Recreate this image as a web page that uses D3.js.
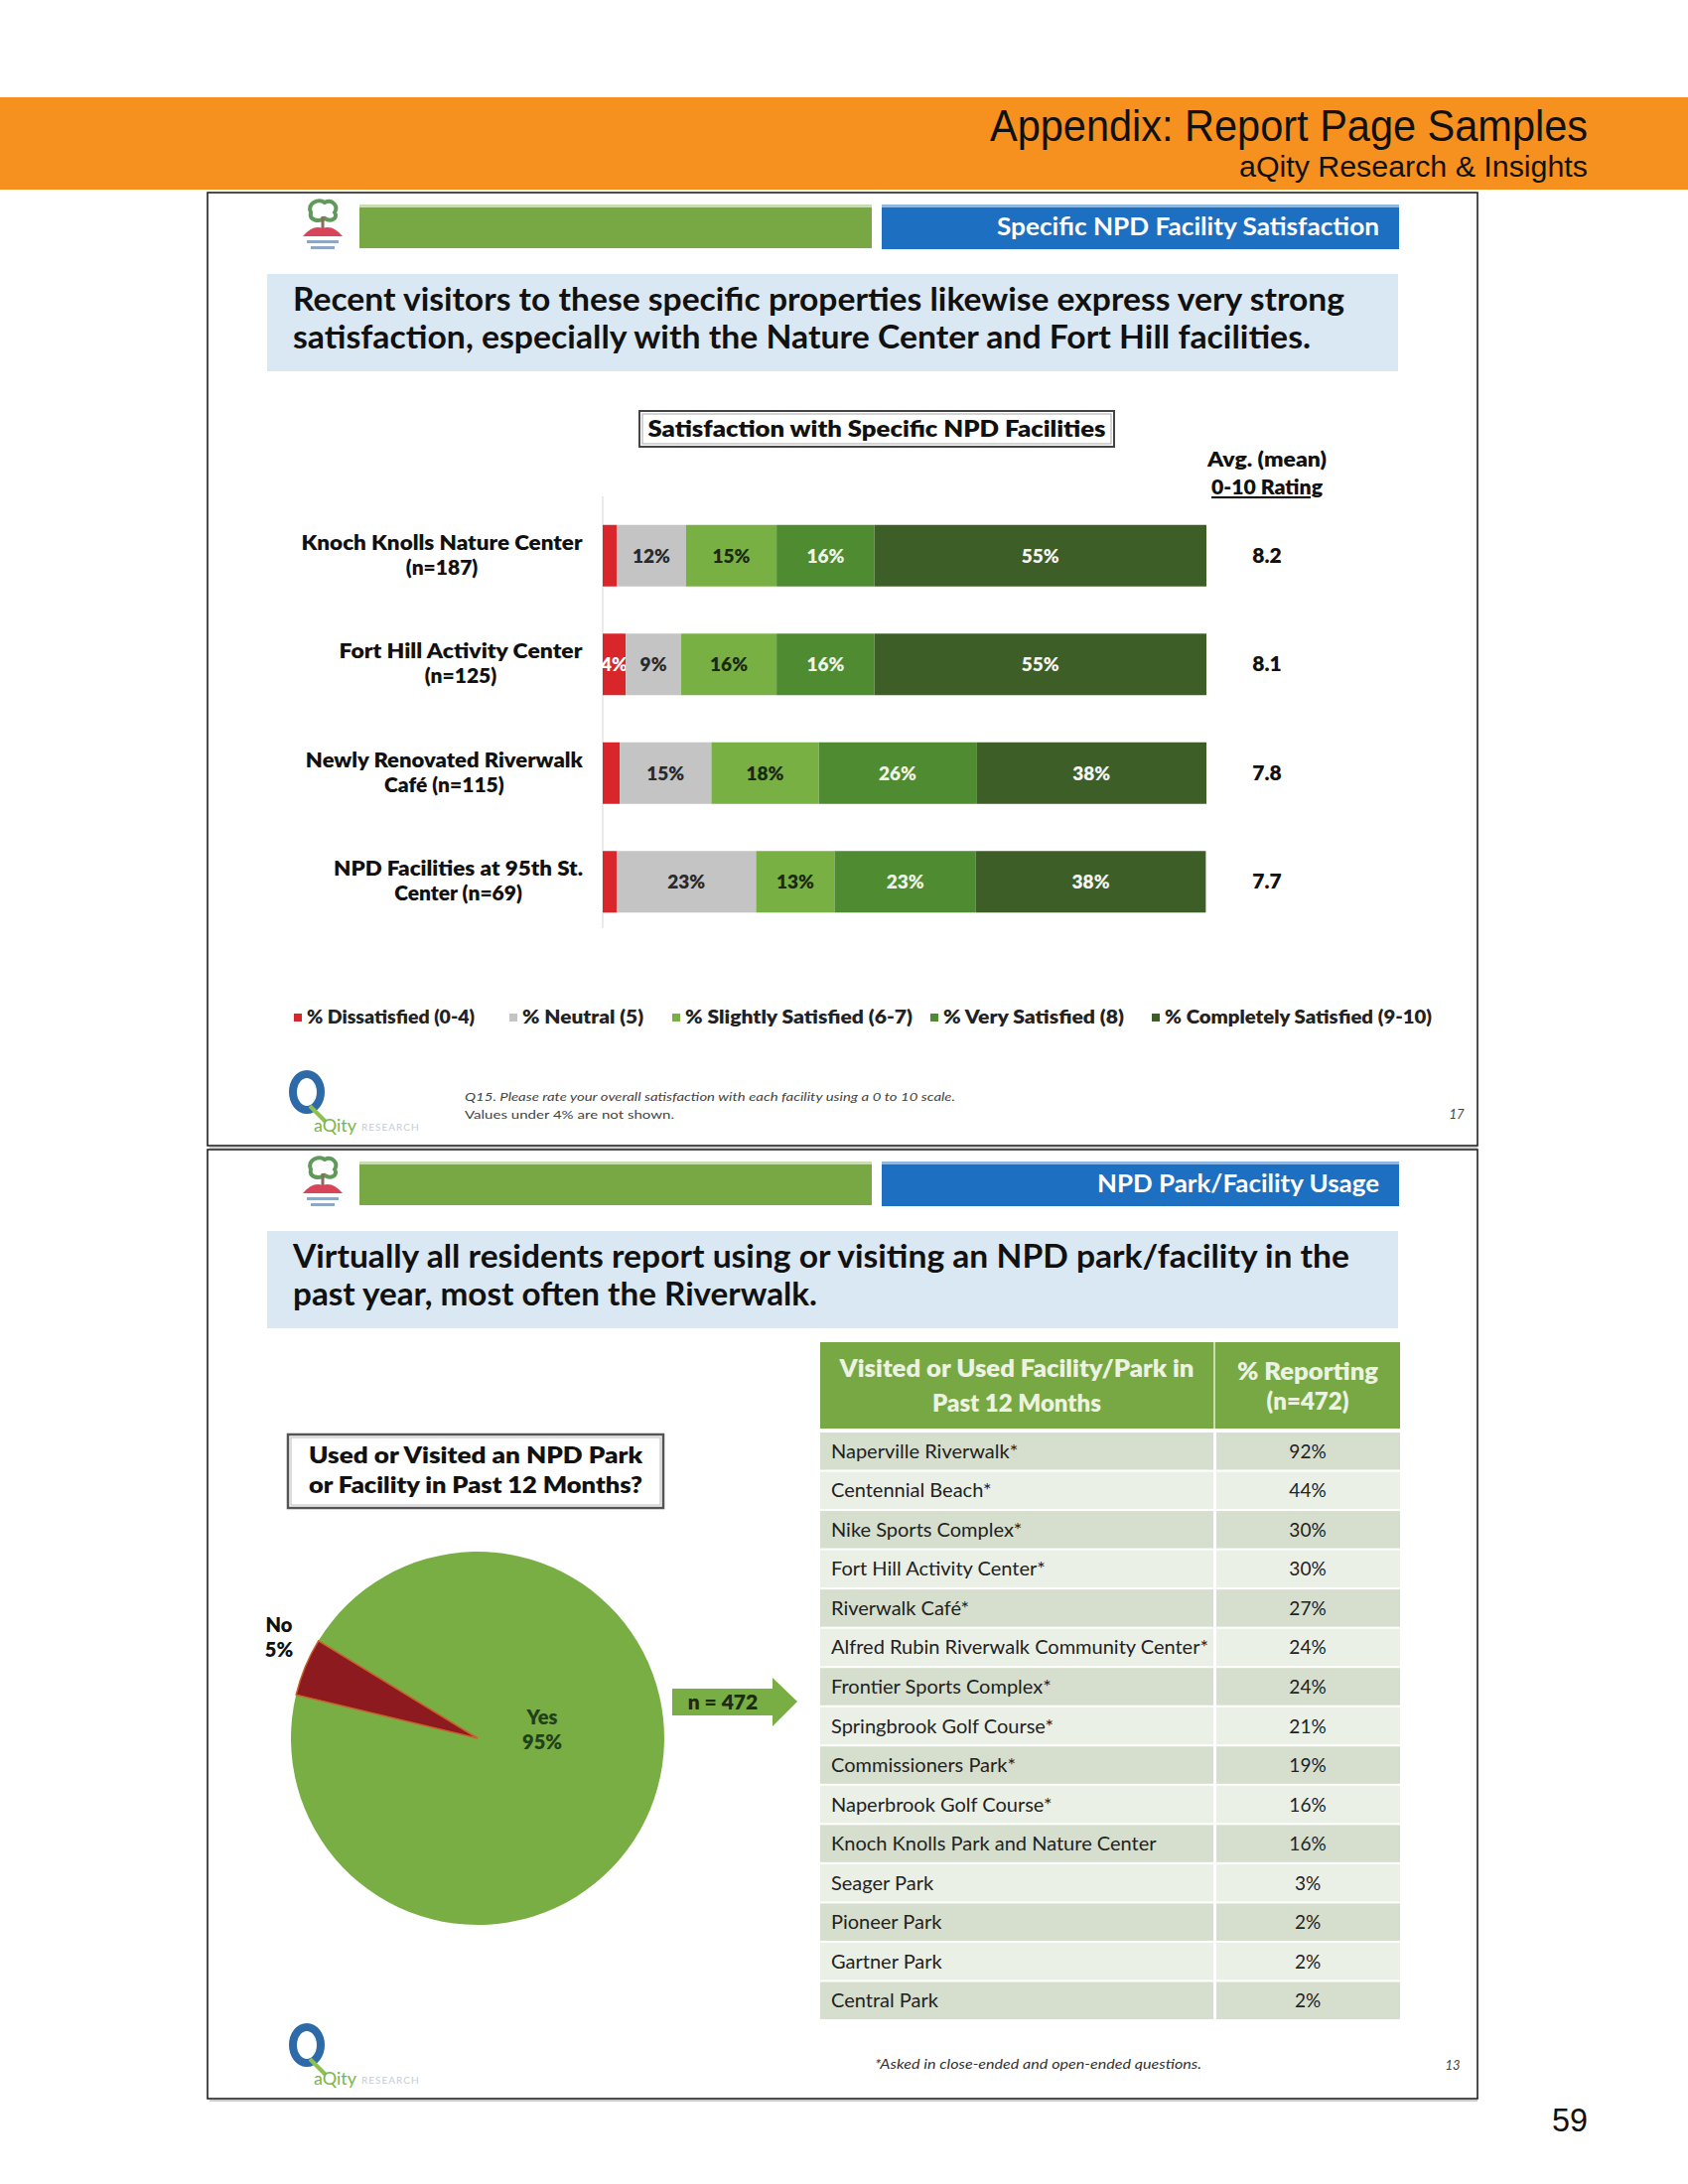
<!DOCTYPE html>
<html>
<head>
<meta charset="utf-8">
<script src="https://cdn.jsdelivr.net/npm/d3@7"></script>
<style>
  body { margin: 0; background: #fff; }
  svg { display: block; }
</style>
</head>
<body>
<div class="page"></div>
<script>
// ---------- data ----------
const facilityLines = [
  ["Knoch Knolls Nature Center", "(n=187)"],
  ["Fort Hill Activity Center", "(n=125)"],
  ["Newly Renovated Riverwalk", "Café (n=115)"],
  ["NPD Facilities at 95th St.", "Center (n=69)"],
];
const satLevels = [
  "% Dissatisfied (0-4)",
  "% Neutral (5)",
  "% Slightly Satisfied (6-7)",
  "% Very Satisfied (8)",
  "% Completely Satisfied (9-10)",
];
const dissatisfied = [2.3, 3.8, 2.8, 2.3];
const neutral = [11.5, 9.2, 15.2, 23.1];
const slightlySatisfied = [15.0, 15.8, 17.8, 13.0];
const verySatisfied = [16.2, 16.2, 26.1, 23.4];
const completelySatisfied = [55.0, 55.0, 38.1, 38.1];
const avgRating = ["8.2", "8.1", "7.8", "7.7"];

const pieLabels = ["Yes", "No"];
const pieValues = [95, 5];

const parkNames = [
  "Naperville Riverwalk*",
  "Centennial Beach*",
  "Nike Sports Complex*",
  "Fort Hill Activity Center*",
  "Riverwalk Café*",
  "Alfred Rubin Riverwalk Community Center*",
  "Frontier Sports Complex*",
  "Springbrook Golf Course*",
  "Commissioners Park*",
  "Naperbrook Golf Course*",
  "Knoch Knolls Park and Nature Center",
  "Seager Park",
  "Pioneer Park",
  "Gartner Park",
  "Central Park",
];
const parkPercent = [92, 44, 30, 30, 27, 24, 24, 21, 19, 16, 16, 3, 2, 2, 2];

// ---------- page ----------
const W = 1700, H = 2200;
const gill = "Lato, 'Open Sans', sans-serif";
const arial = "'Liberation Sans', Arial, sans-serif";

const svg = d3.select(".page").append("svg")
  .attr("width", W).attr("height", H);

// fit a text element to a width measured on the reference
function squeeze(sel, w) {
  sel.attr("textLength", w).attr("lengthAdjust", "spacingAndGlyphs");
  return sel;
}

// orange banner
svg.append("rect").attr("x", 0).attr("y", 98).attr("width", W).attr("height", 93)
  .attr("fill", "#f6901e");
squeeze(svg.append("text").attr("x", 1599).attr("y", 142).attr("text-anchor", "end")
  .attr("font-family", arial).attr("font-size", 44).attr("fill", "#111")
  .text("Appendix: Report Page Samples"), 602);
squeeze(svg.append("text").attr("x", 1599).attr("y", 178).attr("text-anchor", "end")
  .attr("font-family", arial).attr("font-size", 29).attr("fill", "#111")
  .text("aQity Research & Insights"), 351);
squeeze(svg.append("text").attr("x", 1599).attr("y", 2147).attr("text-anchor", "end")
  .attr("font-family", arial).attr("font-size", 33).attr("fill", "#111")
  .text("59"), 36);

// slide frame: border, header bars, logos, headline box
function slideFrame(top, height, title, titleW, headline, headlineW) {
  const g = svg.append("g");
  g.append("rect").attr("x", 209).attr("y", top).attr("width", 1279).attr("height", height)
    .attr("fill", "#fff").attr("stroke", "#222").attr("stroke-width", 1.6);
  g.append("line").attr("x1", 211).attr("x2", 1488).attr("y1", top + height + 2).attr("y2", top + height + 2)
    .attr("stroke", "#ccc").attr("stroke-width", 2);

  // NPD tree logo
  const lg = g.append("g").attr("transform", `translate(325, ${top + 22})`);
  lg.append("path").attr("d", "M-12,-2 C-16,-12 -4,-16 2,-12 C10,-16 16,-8 12,-2 C16,4 8,8 2,4 C-4,8 -14,6 -12,-2Z")
    .attr("fill", "none").attr("stroke", "#5f9a5a").attr("stroke-width", 4);
  lg.append("rect").attr("x", -1.5).attr("y", 2).attr("width", 3).attr("height", 14).attr("fill", "#8a6a5a");
  lg.append("path").attr("d", "M-20,22 Q-10,10 0,14 Q10,10 20,22 Z").attr("fill", "#d8455a");
  lg.append("rect").attr("x", -16).attr("y", 26).attr("width", 32).attr("height", 3).attr("fill", "#8fa7c4");
  lg.append("rect").attr("x", -12).attr("y", 32).attr("width", 24).attr("height", 3).attr("fill", "#8fa7c4");

  g.append("rect").attr("x", 362).attr("y", top + 12).attr("width", 516).attr("height", 44)
    .attr("fill", "#77a843");
  g.append("rect").attr("x", 362).attr("y", top + 12).attr("width", 516).attr("height", 3)
    .attr("fill", "#c9deb0");
  g.append("rect").attr("x", 888).attr("y", top + 12).attr("width", 521).attr("height", 45)
    .attr("fill", "#1d6fc1");
  g.append("rect").attr("x", 888).attr("y", top + 12).attr("width", 521).attr("height", 3)
    .attr("fill", "#8db8e4");
  squeeze(g.append("text").attr("x", 1389).attr("y", top + 43).attr("text-anchor", "end")
    .attr("font-family", gill).attr("font-weight", 700).attr("font-size", 25).attr("fill", "#fff")
    .text(title), titleW);

  g.append("rect").attr("x", 269).attr("y", top + 82).attr("width", 1139).attr("height", 98)
    .attr("fill", "#dae8f3");
  headline.forEach((line, i) => {
    squeeze(g.append("text").attr("x", 295).attr("y", top + 119 + i * 38)
      .attr("font-family", gill).attr("font-weight", 700).attr("font-size", 32).attr("fill", "#111")
      .text(line), headlineW[i]);
  });

  // aQity logo
  const q = g.append("g").attr("transform", `translate(0, ${top + height - 72})`);
  q.append("ellipse").attr("cx", 309).attr("cy", 18).attr("rx", 14).attr("ry", 18)
    .attr("fill", "none").attr("stroke", "#2f6aa8").attr("stroke-width", 8);
  q.append("path").attr("d", "M312,32 L328,48").attr("stroke", "#8cc152").attr("stroke-width", 4);
  q.append("text").attr("x", 316).attr("y", 58).attr("font-family", gill).attr("font-size", 18)
    .attr("fill", "#7ab648").text("aQity");
  q.append("text").attr("x", 364).attr("y", 57).attr("font-family", gill).attr("font-size", 10)
    .attr("fill", "#c8ccd4").attr("letter-spacing", 1).text("RESEARCH");
  return g;
}

// ================= slide 1: stacked bars =================
const top1 = 194;
slideFrame(top1, 960, "Specific NPD Facility Satisfaction", 385,
  ["Recent visitors to these specific properties likewise express very strong",
   "satisfaction, especially with the Nature Center and Fort Hill facilities."],
  [1059, 1025]);

const s1 = svg.append("g");

// chart title box
s1.append("rect").attr("x", 644).attr("y", 414).attr("width", 478).attr("height", 36)
  .attr("fill", "#fff").attr("stroke", "#444").attr("stroke-width", 2);
s1.append("rect").attr("x", 647).attr("y", 417).attr("width", 472).attr("height", 30)
  .attr("fill", "none").attr("stroke", "#aaa").attr("stroke-width", 1);
squeeze(s1.append("text").attr("x", 883).attr("y", 440).attr("text-anchor", "middle")
  .attr("font-family", gill).attr("font-weight", 800).attr("font-size", 22).attr("fill", "#111")
  .text("Satisfaction with Specific NPD Facilities"), 461);

// avg header
squeeze(s1.append("text").attr("x", 1276).attr("y", 470).attr("text-anchor", "middle")
  .attr("font-family", gill).attr("font-weight", 800).attr("font-size", 21).attr("fill", "#111")
  .text("Avg. (mean)"), 120);
squeeze(s1.append("text").attr("x", 1276).attr("y", 498).attr("text-anchor", "middle")
  .attr("font-family", gill).attr("font-weight", 800).attr("font-size", 21).attr("fill", "#111")
  .attr("text-decoration", "underline").text("0-10 Rating"), 112);

const keys = ["dis", "neu", "sli", "ver", "com"];
const rows = facilityLines.map((l, i) => ({
  name: l[0],
  dis: dissatisfied[i],
  neu: neutral[i],
  sli: slightlySatisfied[i],
  ver: verySatisfied[i],
  com: completelySatisfied[i],
}));

const x = d3.scaleLinear().domain([0, 100]).range([607, 1215]);
const pad = 1 - 62 / 109.5;
const y = d3.scaleBand().domain(rows.map(d => d.name)).range([505, 943])
  .paddingInner(pad).paddingOuter(pad / 2);
const color = d3.scaleOrdinal().domain(keys)
  .range(["#d9262b", "#c4c4c4", "#78b043", "#4e8b31", "#3d5e26"]);
const labelColor = d3.scaleOrdinal().domain(keys)
  .range(["#fff", "#2a2a2a", "#1a2a10", "#eef3e6", "#f4f4f4"]);

// faint category axis
s1.append("line").attr("x1", x(0)).attr("x2", x(0)).attr("y1", 500).attr("y2", 935)
  .attr("stroke", "#e4e4e4").attr("stroke-width", 1.5);

const series = d3.stack().keys(keys)(rows);

const layer = s1.selectAll(".layer")
  .data(series)
  .enter()
  .append("g")
  .attr("class", "layer");

layer.selectAll("rect")
  .data(s => s.map(d => Object.assign(d, { key: s.key })))
  .enter()
  .append("rect")
  .attr("x", d => x(d[0]))
  .attr("y", d => y(d.data.name))
  .attr("width", d => x(d[1]) - x(d[0]))
  .attr("height", y.bandwidth())
  .attr("fill", d => color(d.key));

// segment labels, values under 4% not shown
layer.selectAll("text")
  .data(s => s.filter(d => Math.round(d[1] - d[0]) >= 4))
  .enter()
  .append("text")
  .attr("x", d => (x(d[0]) + x(d[1])) / 2)
  .attr("y", d => y(d.data.name) + y.bandwidth() / 2 + 7)
  .attr("text-anchor", "middle")
  .attr("font-family", gill).attr("font-weight", 800).attr("font-size", 19)
  .attr("fill", d => labelColor(d.key))
  .text(d => `${Math.round(d[1] - d[0])}%`);

// category labels: centred lines, block right-aligned
const labelW = [283, 245, 279, 251];
facilityLines.forEach((lines, i) => {
  const cy = y(rows[i].name) + y.bandwidth() / 2;
  const t = s1.append("text").attr("text-anchor", "middle")
    .attr("font-family", gill).attr("font-weight", 800).attr("font-size", 21).attr("fill", "#111");
  lines.forEach((ln, j) => {
    const ts = t.append("tspan").attr("x", 0).attr("y", cy - 6 + j * 25).text(ln);
    if (j === 0) squeeze(ts, labelW[i]);
  });
  const w = t.node().getBBox().width;
  t.attr("transform", `translate(${587 - w / 2},0)`);
});

// average ratings
s1.selectAll(".avg")
  .data(avgRating)
  .enter()
  .append("text")
  .attr("class", "avg")
  .attr("x", 1276)
  .attr("y", (d, i) => y(rows[i].name) + y.bandwidth() / 2 + 7)
  .attr("text-anchor", "middle")
  .attr("font-family", gill).attr("font-weight", 800).attr("font-size", 21).attr("fill", "#111")
  .text(d => d);

// legend
const legendX = [296, 513, 677, 937, 1160];
const legendW = [169, 122, 229, 182, 269];
const legend = s1.selectAll(".legend")
  .data(keys)
  .enter()
  .append("g")
  .attr("class", "legend")
  .attr("transform", (d, i) => `translate(${legendX[i]}, 1025)`);
legend.append("rect").attr("x", 0).attr("y", -4).attr("width", 8).attr("height", 8)
  .attr("fill", color);
legend.append("text").attr("x", 13).attr("y", 6)
  .attr("font-family", gill).attr("font-weight", 800).attr("font-size", 18).attr("fill", "#222")
  .text((d, i) => satLevels[i])
  .each(function(d, i) { squeeze(d3.select(this), legendW[i]); });

// footnotes
squeeze(s1.append("text").attr("x", 468).attr("y", 1109).attr("font-family", gill)
  .attr("font-style", "italic").attr("font-size", 12).attr("fill", "#444")
  .text("Q15.  Please rate your overall satisfaction with each facility using a 0 to 10 scale."), 494);
squeeze(s1.append("text").attr("x", 468).attr("y", 1127).attr("font-family", gill)
  .attr("font-size", 12).attr("fill", "#444")
  .text("Values under 4% are not shown."), 211);
s1.append("text").attr("x", 1467).attr("y", 1127).attr("text-anchor", "middle").attr("font-family", gill)
  .attr("font-style", "italic").attr("font-size", 13).attr("fill", "#444").text("17");

// ================= slide 2: pie + table =================
const top2 = 1158;
slideFrame(top2, 956, "NPD Park/Facility Usage", 284,
  ["Virtually all residents report using or visiting an NPD park/facility in the",
   "past year, most often the Riverwalk."],
  [1064, 528]);

const s2 = svg.append("g");

// question box
s2.append("rect").attr("x", 290).attr("y", 1445).attr("width", 378).attr("height", 74)
  .attr("fill", "#fff").attr("stroke", "#555").attr("stroke-width", 2.5);
s2.append("rect").attr("x", 293).attr("y", 1448).attr("width", 372).attr("height", 68)
  .attr("fill", "none").attr("stroke", "#bbb").attr("stroke-width", 1);
["Used or Visited an NPD Park", "or Facility in Past 12 Months?"].forEach((ln, i) => {
  squeeze(s2.append("text").attr("x", 479).attr("y", 1474 + i * 30).attr("text-anchor", "middle")
    .attr("font-family", gill).attr("font-weight", 800).attr("font-size", 23).attr("fill", "#111")
    .text(ln), 336);
});

// pie
const pieData = pieLabels.map((l, i) => ({ name: l, value: pieValues[i] }));
const start = -58.5 * Math.PI / 180;
const pie = d3.pie().value(d => d.value).sort(null)
  .startAngle(start).endAngle(start + 2 * Math.PI);
const arc = d3.arc().innerRadius(0).outerRadius(188);
const pieColor = d3.scaleOrdinal().domain(pieLabels).range(["#78ae43", "#8c1a1e"]);

const pg = s2.append("g").attr("transform", "translate(481, 1751)");
pg.selectAll("path")
  .data(pie(pieData))
  .enter()
  .append("path")
  .attr("d", arc)
  .attr("fill", d => pieColor(d.data.name))
  .attr("stroke", d => d.data.name === "No" ? "#c8602e" : "none")
  .attr("stroke-width", 1.5);

// pie labels
const pieLabelPos = { Yes: [65, -14], No: [-200, -107] };
const pieLabelFill = { Yes: "#22401a", No: "#111" };
pg.selectAll(".plabel")
  .data(pie(pieData))
  .enter()
  .append("text")
  .attr("class", "plabel")
  .attr("text-anchor", "middle")
  .attr("font-family", gill).attr("font-weight", 800).attr("font-size", 20)
  .attr("fill", d => pieLabelFill[d.data.name])
  .each(function(d) {
    const p = pieLabelPos[d.data.name];
    const t = d3.select(this);
    t.append("tspan").attr("x", p[0]).attr("y", p[1]).text(d.data.name);
    t.append("tspan").attr("x", p[0]).attr("y", p[1] + 25).text(`${d.data.value}%`);
  });

// n = 472 arrow
s2.append("path")
  .attr("d", "M677,1701 L778,1701 L778,1690 L803,1714 L778,1739 L778,1728 L677,1728 Z")
  .attr("fill", "#78ae43");
s2.append("text").attr("x", 728).attr("y", 1722).attr("text-anchor", "middle")
  .attr("font-family", gill).attr("font-weight", 800).attr("font-size", 21).attr("fill", "#1c2c12")
  .text("n = 472");

// table
const tx0 = 826, tx1 = 1410, tcol = 1223;
s2.append("rect").attr("x", tx0).attr("y", 1352).attr("width", tx1 - tx0).attr("height", 87)
  .attr("fill", "#78a843");
s2.append("line").attr("x1", tcol).attr("x2", tcol).attr("y1", 1352).attr("y2", 1439)
  .attr("stroke", "#c9dcb4").attr("stroke-width", 2);
["Visited or Used Facility/Park in", "Past 12 Months"].forEach((ln, i) => {
  const t = s2.append("text").attr("x", 1024).attr("y", 1387 + i * 35).attr("text-anchor", "middle")
    .attr("font-family", gill).attr("font-weight", 800).attr("font-size", 24).attr("fill", "#ecf3e2")
    .text(ln);
  if (i === 0) squeeze(t, 357);
});
["% Reporting", "(n=472)"].forEach((ln, i) => {
  const t = s2.append("text").attr("x", 1317).attr("y", 1390 + i * 30).attr("text-anchor", "middle")
    .attr("font-family", gill).attr("font-weight", 800).attr("font-size", 24).attr("fill", "#ecf3e2")
    .text(ln);
  if (i === 0) squeeze(t, 142);
});

const ty = d3.scaleBand().domain(parkNames).range([1443, 2036]);
const rowFill = i => (i % 2 === 0 ? "#d6dfcd" : "#ebf0e6");

const trow = s2.selectAll(".trow")
  .data(parkNames)
  .enter()
  .append("g")
  .attr("class", "trow");
trow.append("rect")
  .attr("x", tx0).attr("y", d => ty(d))
  .attr("width", tcol - tx0 - 1).attr("height", ty.bandwidth() - 2)
  .attr("fill", (d, i) => rowFill(i));
trow.append("rect")
  .attr("x", tcol + 2).attr("y", d => ty(d))
  .attr("width", tx1 - tcol - 2).attr("height", ty.bandwidth() - 2)
  .attr("fill", (d, i) => rowFill(i));
trow.append("text")
  .attr("x", 837).attr("y", d => ty(d) + ty.bandwidth() / 2 + 6)
  .attr("font-family", gill).attr("font-size", 20).attr("fill", "#222")
  .text(d => d);
trow.append("text")
  .attr("x", 1317).attr("y", d => ty(d) + ty.bandwidth() / 2 + 6)
  .attr("text-anchor", "middle")
  .attr("font-family", gill).attr("font-size", 19).attr("fill", "#222")
  .text((d, i) => `${parkPercent[i]}%`);

// footnote
squeeze(s2.append("text").attr("x", 881).attr("y", 2084).attr("font-family", gill)
  .attr("font-style", "italic").attr("font-size", 13).attr("fill", "#333")
  .text("*Asked in close-ended and open-ended questions."), 329);
s2.append("text").attr("x", 1463).attr("y", 2085).attr("text-anchor", "middle").attr("font-family", gill)
  .attr("font-style", "italic").attr("font-size", 13).attr("fill", "#444").text("13");
</script>
</body>
</html>
